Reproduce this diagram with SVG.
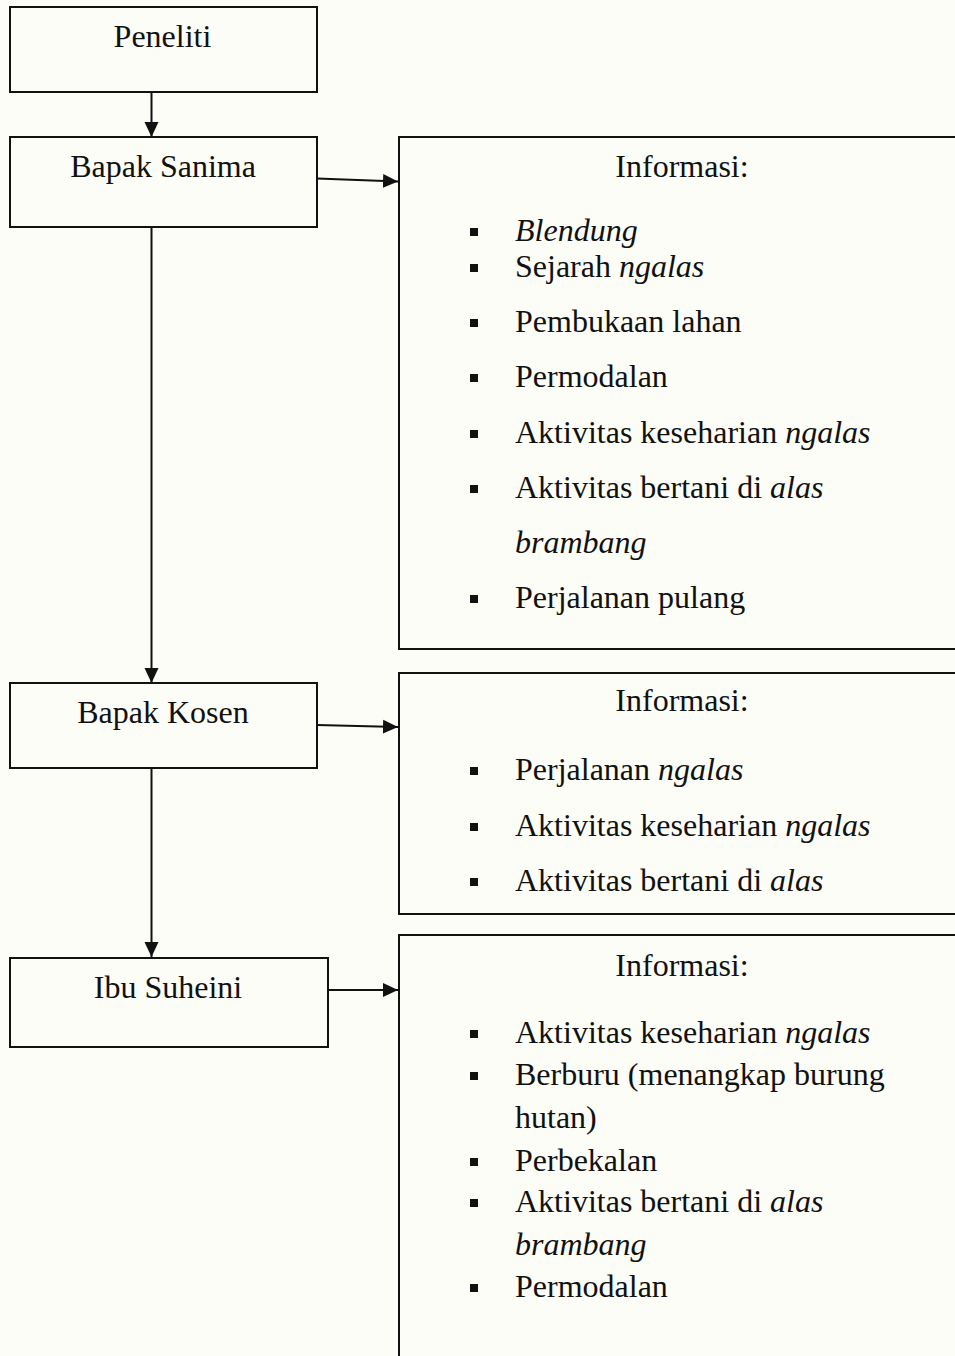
<svg xmlns="http://www.w3.org/2000/svg" width="955" height="1356" viewBox="0 0 955 1356">
<style>
.box{fill:none;stroke:#111;stroke-width:2}
.lbl{font-family:"Liberation Serif","Times New Roman",serif;font-size:32px;fill:#111}
.c{text-anchor:middle}
.i{font-style:italic}
.con{stroke:#111;stroke-width:2;fill:none;marker-end:url(#ah)}
.bul{fill:#111}
</style>
<defs>
<marker id="ah" markerUnits="userSpaceOnUse" markerWidth="16" markerHeight="16" viewBox="0 0 16 16" refX="15" refY="8" orient="auto">
<path d="M0,1 L15,8 L0,15 Z" fill="#111"/>
</marker>
</defs>
<rect x="0" y="0" width="955" height="1356" fill="#fcfdf7"/>

<g id="connectors">
<line class="con" x1="151.5" y1="92" x2="151.5" y2="137"/>
<line class="con" x1="317" y1="178.5" x2="398" y2="181.5"/>
<line class="con" x1="151.5" y1="227" x2="151.5" y2="683"/>
<line class="con" x1="317" y1="725" x2="398" y2="727"/>
<line class="con" x1="151.5" y1="768" x2="151.5" y2="957"/>
<line class="con" x1="328" y1="990" x2="398" y2="990"/>
</g>

<g id="peneliti">
<rect class="box" x="10" y="7" width="307" height="85"/>
<text class="lbl c" x="162.5" y="47">Peneliti</text>
</g>

<g id="bapak-sanima">
<rect class="box" x="10" y="137" width="307" height="90"/>
<text class="lbl c" x="163" y="177">Bapak Sanima</text>
</g>

<g id="bapak-kosen">
<rect class="box" x="10" y="683" width="307" height="85"/>
<text class="lbl c" x="163" y="723">Bapak Kosen</text>
</g>

<g id="ibu-suheini">
<rect class="box" x="10" y="958" width="318" height="89"/>
<text class="lbl c" x="168" y="998">Ibu Suheini</text>
</g>

<g id="info-sanima">
<rect class="box" x="399" y="137" width="600" height="512"/>
<text class="lbl c" x="682" y="177">Informasi:</text>
<rect class="bul" x="470" y="228" width="8" height="8"/>
<text class="lbl i" x="515" y="241">Blendung</text>
<rect class="bul" x="470" y="264" width="8" height="8"/>
<text class="lbl" x="515" y="277">Sejarah <tspan class="i">ngalas</tspan></text>
<rect class="bul" x="470" y="319" width="8" height="8"/>
<text class="lbl" x="515" y="332">Pembukaan lahan</text>
<rect class="bul" x="470" y="374" width="8" height="8"/>
<text class="lbl" x="515" y="387">Permodalan</text>
<rect class="bul" x="470" y="430" width="8" height="8"/>
<text class="lbl" x="515" y="443">Aktivitas keseharian <tspan class="i">ngalas</tspan></text>
<rect class="bul" x="470" y="485" width="8" height="8"/>
<text class="lbl" x="515" y="498">Aktivitas bertani di <tspan class="i">alas</tspan></text>
<text class="lbl i" x="515" y="553">brambang</text>
<rect class="bul" x="470" y="595" width="8" height="8"/>
<text class="lbl" x="515" y="608">Perjalanan pulang</text>
</g>

<g id="info-kosen">
<rect class="box" x="399" y="673" width="600" height="241"/>
<text class="lbl c" x="682" y="711">Informasi:</text>
<rect class="bul" x="470" y="767" width="8" height="8"/>
<text class="lbl" x="515" y="780">Perjalanan <tspan class="i">ngalas</tspan></text>
<rect class="bul" x="470" y="823" width="8" height="8"/>
<text class="lbl" x="515" y="836">Aktivitas keseharian <tspan class="i">ngalas</tspan></text>
<rect class="bul" x="470" y="878" width="8" height="8"/>
<text class="lbl" x="515" y="891">Aktivitas bertani di <tspan class="i">alas</tspan></text>
</g>

<g id="info-suheini">
<rect class="box" x="399" y="935" width="600" height="500"/>
<text class="lbl c" x="682" y="976">Informasi:</text>
<rect class="bul" x="470" y="1030" width="8" height="8"/>
<text class="lbl" x="515" y="1043">Aktivitas keseharian <tspan class="i">ngalas</tspan></text>
<rect class="bul" x="470" y="1072" width="8" height="8"/>
<text class="lbl" x="515" y="1085">Berburu (menangkap burung</text>
<text class="lbl" x="515" y="1128">hutan)</text>
<rect class="bul" x="470" y="1158" width="8" height="8"/>
<text class="lbl" x="515" y="1171">Perbekalan</text>
<rect class="bul" x="470" y="1199" width="8" height="8"/>
<text class="lbl" x="515" y="1212">Aktivitas bertani di <tspan class="i">alas</tspan></text>
<text class="lbl i" x="515" y="1255">brambang</text>
<rect class="bul" x="470" y="1284" width="8" height="8"/>
<text class="lbl" x="515" y="1297">Permodalan</text>
</g>
</svg>
